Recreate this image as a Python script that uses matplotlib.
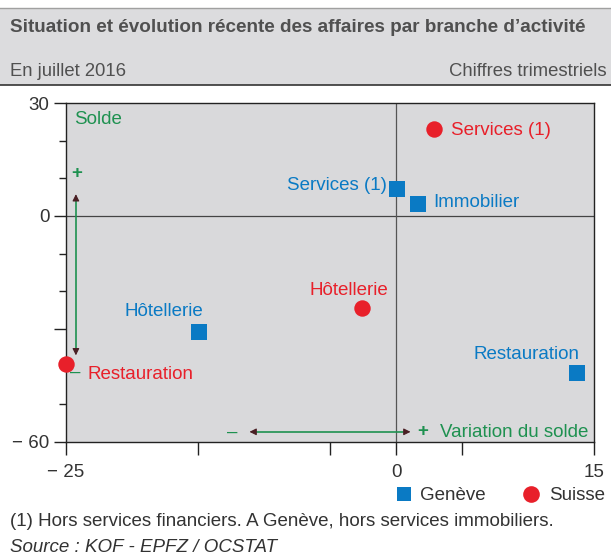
import numpy as np
import matplotlib
matplotlib.use('Agg')
import matplotlib.pyplot as plt
from matplotlib.patches import Rectangle
from matplotlib.lines import Line2D

plt.rcParams['font.family'] = ['Liberation Sans', 'DejaVu Sans']

# Data (solde, variation du solde)
ge_labels = ['Services (1)', 'Immobilier', 'Hôtellerie', 'Restauration']
ge_x = [0.1, 1.7, -14.9, 13.7]
ge_y = [7.2, 3.2, -30.8, -41.7]

ch_labels = ['Services (1)', 'Hôtellerie', 'Restauration']
ch_x = [2.9, -2.6, -25.0]
ch_y = [23.1, -24.4, -39.3]

xticks = [-25, -15, -5, 0, 5, 15]
xticklabels = ['\u2212 25', '', '', '0', '', '15']
yticks = [30, 20, 10, 0, -10, -20, -30, -40, -50, -60]
yticklabels = ['30', '', '', '0', '', '', '', '', '', '\u2212 60']

blue = '#0a7ac4'
red = '#e8202a'
green = '#1e9150'
head = '#4a1f24'
txt = '#333333'
W, H = 611, 559

fig = plt.figure(figsize=(W / 100, H / 100), dpi=100)

# header band
fig.patches.append(Rectangle((0, 1 - 85 / H), 1, 77 / H, transform=fig.transFigure,
                             facecolor='#dcdcde', edgecolor='none', zorder=0))
fig.lines.append(Line2D([0, 1], [1 - 8 / H, 1 - 8 / H], transform=fig.transFigure, color='#a0a0a0', lw=1))
fig.lines.append(Line2D([0, 1], [1 - 85 / H, 1 - 85 / H], transform=fig.transFigure, color='#333333', lw=1.2))
fig.text(10 / W, 1 - 27 / H, 'Situation et évolution récente des affaires par branche d\u2019activité',
         fontsize=13.6, fontweight='bold', color='#505050', va='center')
fig.text(10 / W, 1 - 71 / H, 'En juillet 2016', fontsize=13.3, color='#505050', va='center')
fig.text(607 / W, 1 - 71 / H, 'Chiffres trimestriels', fontsize=13.3, color='#505050', va='center', ha='right')

ax = fig.add_axes([66 / W, (H - 442) / H, 528 / W, 339 / H])
ax.set_facecolor('#d9d9db')
ax.set_xlim(-25, 15)
ax.set_ylim(-60, 30)
ax.axhline(0, color='#444444', lw=0.9, zorder=1)
ax.axvline(0, color='#555555', lw=0.9, zorder=1)
for s in ax.spines.values():
    s.set_color('#222222')
    s.set_linewidth(1.0)
ax.set_xticks(xticks)
ax.set_xticklabels(xticklabels)
ax.set_yticks(yticks)
ax.set_yticklabels(yticklabels)
ax.tick_params(direction='out', length=9, width=1, color='#222222', labelsize=13.5, labelcolor=txt, pad=3)
ax.tick_params(axis='x', pad=7)
for t, v in zip(ax.yaxis.get_major_ticks(), yticks):
    if v % 30 != 0:
        t.tick1line.set_markersize(5)

ax.scatter(ge_x, ge_y, marker='s', s=120, color=blue, zorder=4, clip_on=False, linewidths=0)
ax.scatter(ch_x, ch_y, marker='o', s=140, color=red, zorder=4, clip_on=False, linewidths=0)

fs = 13.5
ax.text(4.2, 22.8, ch_labels[0], color=red, fontsize=fs, va='center', ha='left')
ax.text(-3.6, -19.9, ch_labels[1], color=red, fontsize=fs, va='center', ha='center')
ax.text(-23.4, -42.1, ch_labels[2], color=red, fontsize=fs, va='center', ha='left')
ax.text(-0.7, 8.2, ge_labels[0], color=blue, fontsize=fs, va='center', ha='right')
ax.text(2.8, 3.7, ge_labels[1], color=blue, fontsize=fs, va='center', ha='left')
ax.text(-17.6, -25.3, ge_labels[2], color=blue, fontsize=fs, va='center', ha='center')
ax.text(9.9, -36.7, ge_labels[3], color=blue, fontsize=fs, va='center', ha='center')

# axis guides
ax.text(-24.4, 25.7, 'Solde', color=green, fontsize=fs, va='center', ha='left')
ax.text(-24.2, 11.2, '+', color=green, fontsize=fs, va='center', ha='center', fontweight='bold')
ax.text(-24.3, -41.4, '\u2013', color=green, fontsize=fs, va='center', ha='center')
ax.plot([-24.25, -24.25], [4.5, -35.7], color=green, lw=1.2)
ax.plot([-10.5, 0.5], [-57.3, -57.3], color=green, lw=1.2)
arrow_heads = [((-24.25, 5.8), (-24.25, 5.0)), ((-24.25, -37.0), (-24.25, -36.2)),
               ((-11.1, -57.3), (-10.8, -57.3)), ((1.1, -57.3), (0.8, -57.3))]
for tip, tail in arrow_heads:
    ax.annotate('', xy=tip, xytext=tail,
                arrowprops=dict(arrowstyle='-|>', color=head, lw=0.8, mutation_scale=10,
                                shrinkA=0, shrinkB=0))
ax.text(-12.4, -57.3, '\u2013', color=green, fontsize=fs, va='center', ha='center')
ax.text(2.0, -57.3, '+', color=green, fontsize=fs, va='center', ha='center', fontweight='bold')
ax.text(3.3, -57.6, 'Variation du solde', color=green, fontsize=fs, va='center', ha='left')

# legend
fig.lines.append(Line2D([404 / W], [1 - 494 / H], transform=fig.transFigure, marker='s', ms=10,
                        color=blue, ls='none', mew=0))
fig.text(420 / W, 1 - 495 / H, 'Genève', fontsize=13.5, color=txt, va='center')
fig.lines.append(Line2D([531 / W], [1 - 494 / H], transform=fig.transFigure, marker='o', ms=12,
                        color=red, ls='none', mew=0))
fig.text(549 / W, 1 - 495 / H, 'Suisse', fontsize=13.5, color=txt, va='center')

fig.text(10 / W, 1 - 522 / H, '(1) Hors services financiers. A Genève, hors services immobiliers.',
         fontsize=13.5, color=txt, va='center')
fig.text(10 / W, 1 - 548 / H, 'Source : KOF - EPFZ / OCSTAT', fontsize=13.5, color=txt, va='center',
         style='italic')

fig.savefig('out.png', dpi=100)
